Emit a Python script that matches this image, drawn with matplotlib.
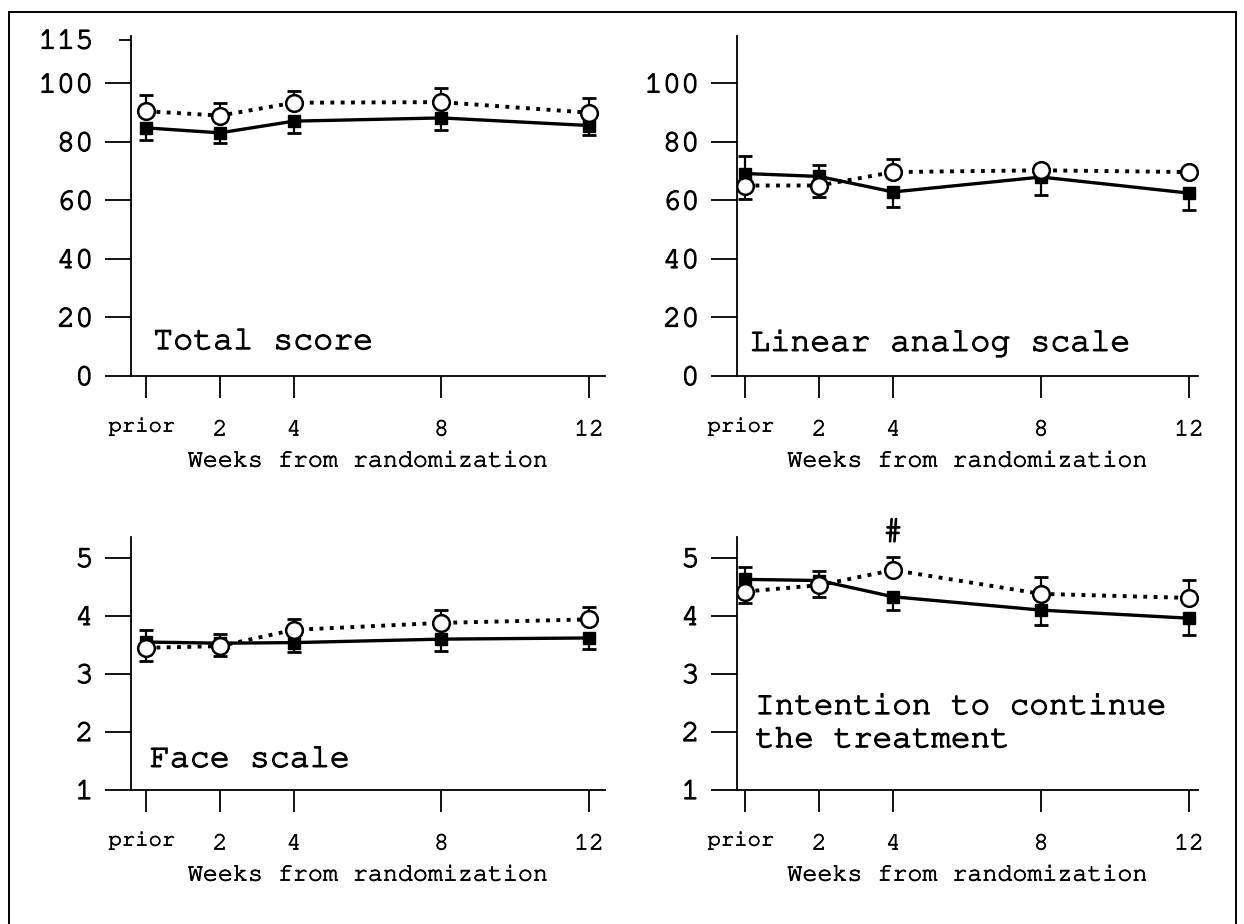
import matplotlib
matplotlib.use('Agg')
import matplotlib.pyplot as plt
import matplotlib.patheffects as pe
from matplotlib import font_manager
from matplotlib.lines import Line2D
from matplotlib.text import Text
import numpy as np

# ---------------- data ----------------
weeks = [0, 2, 4, 8, 12]
week_labels = ['prior', '2', '4', '8', '12']
xlabel_text = 'Weeks from randomization'

# Total score
total_circ = [90.5, 89.0, 93.4, 93.6, 90.0]
total_circ_lo = [0, 0, 0, 0, 0]
total_circ_hi = [5.4, 4.4, 4.0, 4.7, 4.9]
total_sq = [84.8, 83.1, 87.1, 88.2, 85.6]
total_sq_lo = [4.0, 3.4, 4.0, 4.0, 3.4]
total_sq_hi = [0, 0, 0, 0, 0]

# Linear analog scale
las_circ = [65.1, 65.1, 69.7, 70.3, 69.7]
las_circ_lo = [4.5, 4.0, 0, 0, 0]
las_circ_hi = [0, 0, 4.3, 1.4, 0]
las_sq = [69.2, 68.2, 62.9, 68.0, 62.5]
las_sq_lo = [0, 0, 5.2, 6.0, 5.6]
las_sq_hi = [5.9, 4.0, 0, 0, 0]

# Face scale
face_circ = [3.45, 3.48, 3.76, 3.88, 3.94]
face_circ_lo = [0.23, 0.17, 0, 0, 0]
face_circ_hi = [0, 0, 0.18, 0.23, 0.22]
face_sq = [3.55, 3.53, 3.54, 3.60, 3.62]
face_sq_lo = [0, 0, 0.17, 0.21, 0.19]
face_sq_hi = [0.21, 0.15, 0, 0, 0]

# Intention to continue the treatment
int_circ = [4.42, 4.53, 4.79, 4.38, 4.31]
int_circ_lo = [0.20, 0.20, 0, 0, 0]
int_circ_hi = [0, 0, 0.23, 0.29, 0.31]
int_sq = [4.63, 4.61, 4.33, 4.10, 3.96]
int_sq_lo = [0, 0, 0.23, 0.26, 0.29]
int_sq_hi = [0.21, 0.17, 0, 0, 0]

# ---------------- font ----------------
names = {f.name for f in font_manager.fontManager.ttflist}
mono = 'Liberation Mono'
for cand in ['Nimbus Mono PS', 'Nimbus Mono L', 'FreeMono', 'Courier New',
             'Courier', 'Liberation Mono', 'DejaVu Sans Mono']:
    if cand in names:
        mono = cand
        break
plt.rcParams['font.family'] = [mono]

W, H = 1244, 924
fig = plt.figure(figsize=(W / 100, H / 100), dpi=100)
fig.patch.set_facecolor('white')

# frame around the whole figure (left, top, right)
fk = dict(transform=fig.transFigure, color='black', lw=1.4)
fig.add_artist(Line2D([9 / W, 9 / W], [0, 1 - 12 / H], **fk))
fig.add_artist(Line2D([9 / W, 1236 / W], [1 - 12 / H, 1 - 12 / H], **fk))
fig.add_artist(Line2D([1236 / W, 1236 / W], [0, 1 - 12 / H], **fk))

lx0, lw_ = 131 / W, (605 - 131) / W
rx0, rw_ = 737 / W, (1198 - 737) / W
ty0, th_ = 1 - 376 / H, (376 - 36) / H
by0, bh_ = 1 - 790 / H, (790 - 537) / H

ax_tl = fig.add_axes([lx0, ty0, lw_, th_])
ax_tr = fig.add_axes([rx0, ty0, rw_, th_])
ax_bl = fig.add_axes([lx0, by0, lw_, bh_])
ax_br = fig.add_axes([rx0, by0, rw_, bh_])

LINE_W = 2.4
CAP_MS = 10
ERR_LW = 1.6


def bars(ax, x, y, lo, hi):
    x = np.asarray(x, float)
    y = np.asarray(y, float)
    lo = np.asarray(lo, float)
    hi = np.asarray(hi, float)
    m = hi > 0
    ax.vlines(x[m], y[m], y[m] + hi[m], color='black', lw=ERR_LW, zorder=2)
    ax.plot(x[m], y[m] + hi[m], ls='none', marker='_', ms=CAP_MS,
            mew=ERR_LW + 0.4, color='black', zorder=2)
    m = lo > 0
    ax.vlines(x[m], y[m] - lo[m], y[m], color='black', lw=ERR_LW, zorder=2)
    ax.plot(x[m], y[m] - lo[m], ls='none', marker='_', ms=CAP_MS,
            mew=ERR_LW + 0.4, color='black', zorder=2)


def panel(ax, circ, clo, chi, sq, slo, shi, ylim, yticks, xlim):
    bars(ax, weeks, sq, slo, shi)
    bars(ax, weeks, circ, clo, chi)
    ax.plot(weeks, sq, '-', color='black', lw=LINE_W, zorder=3)
    ax.plot(weeks, sq, ls='none', marker='s', ms=8, mfc='black',
            mec='black', zorder=4)
    ax.plot(weeks, circ, ls=':', color='black', lw=2.8, zorder=3)
    ax.plot(weeks, circ, ls='none', marker='o', ms=12, mfc='white',
            mec='black', mew=1.8, zorder=5)
    ax.set_xlim(*xlim)
    ax.set_ylim(*ylim)
    ax.set_yticks(yticks)
    ax.set_yticklabels([str(t) for t in yticks])
    ax.set_xticks(weeks)
    ax.set_xticklabels([''] + week_labels[1:])
    ax.annotate(week_labels[0], xy=(weeks[0], 0), xycoords=('data', 'axes fraction'),
                xytext=(-3, -40), textcoords='offset points', ha='center',
                va='baseline', fontsize=16)
    for s in ['top', 'right']:
        ax.spines[s].set_visible(False)
    for s in ['left', 'bottom']:
        ax.spines[s].set_linewidth(1.3)
    ax.tick_params(axis='y', direction='out', length=19, width=1.3, pad=8,
                   labelsize=22)
    ax.tick_params(axis='x', direction='out', length=16, width=1.3, pad=16,
                   labelsize=18)
    ax.set_xlabel(xlabel_text, fontsize=18, labelpad=8)
    ax.set_facecolor('none')


xlim_l = (-0.41, 12.43)
xlim_r = (-0.22, 12.24)

panel(ax_tl, total_circ, total_circ_lo, total_circ_hi, total_sq, total_sq_lo,
      total_sq_hi, (0, 116.2), [0, 20, 40, 60, 80, 100], xlim_l)
ax_tl.set_yticks([115], labels=['115'], minor=True)
ax_tl.tick_params(axis='y', which='minor', length=9, width=1.3, pad=18,
                  labelsize=22)
ax_tl.text(0.19, 11.6, 'Total score', fontsize=24, va='center', ha='left')

panel(ax_tr, las_circ, las_circ_lo, las_circ_hi, las_sq, las_sq_lo,
      las_sq_hi, (0, 116.2), [0, 20, 40, 60, 80, 100], xlim_r)
ax_tr.text(0.14, 11.0, 'Linear analog scale', fontsize=24, va='center',
           ha='left')

panel(ax_bl, face_circ, face_circ_lo, face_circ_hi, face_sq, face_sq_lo,
      face_sq_hi, (1, 5.36), [1, 2, 3, 4, 5], xlim_l)
ax_bl.text(0.1, 1.52, 'Face scale', fontsize=24, va='center', ha='left')

panel(ax_br, int_circ, int_circ_lo, int_circ_hi, int_sq, int_sq_lo,
      int_sq_hi, (1, 5.36), [1, 2, 3, 4, 5], xlim_r)
ax_br.text(0.27, 2.43, 'Intention to continue', fontsize=23.5, va='center',
           ha='left')
ax_br.text(0.27, 1.86, 'the treatment', fontsize=23.5, va='center', ha='left')
ax_br.text(weeks[2], 5.43, '#', fontsize=24, va='center', ha='center',
           clip_on=False)

# thicken all text a little (scanned Courier look)
fig.canvas.draw()
for t in fig.findobj(Text):
    lw = 0.9 if t.get_fontsize() >= 20 else 0.55
    t.set_path_effects([pe.withStroke(linewidth=lw, foreground='black')])

fig.savefig('out.png', dpi=100, facecolor='white')
